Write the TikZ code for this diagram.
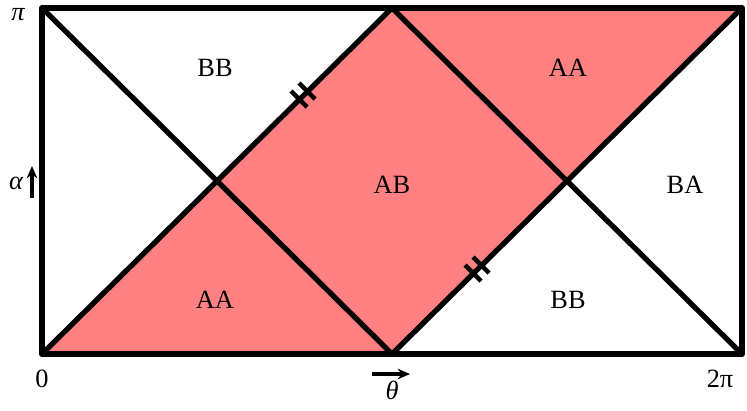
\documentclass[tikz,border=0pt]{standalone}
\usepackage{fontspec}
\setmainfont{Liberation Serif}
\usetikzlibrary{arrows.meta}
\begin{document}
\begin{tikzpicture}[x=0.02cm,y=-0.02cm,
  thickline/.style={line width=3pt,line cap=round,line join=round},
  lbl/.style={font=\fontsize{15}{17}\selectfont},
  axl/.style={font=\fontsize{15}{17}\selectfont\itshape},
  pinkfill/.style={fill=red!50!white}]
\useasboundingbox (0,0) rectangle (747,410);
\coordinate (BL) at (42,354); \coordinate (BR) at (742,354);
\coordinate (TL) at (42,8); \coordinate (TR) at (742,8);
\coordinate (TM) at (392,8); \coordinate (BM) at (392,354);
\coordinate (XL) at (217,181); \coordinate (XR) at (567,181);
\fill[pinkfill] (BL) -- (XL) -- (BM) -- cycle;
\fill[pinkfill] (XL) -- (TM) -- (XR) -- (BM) -- cycle;
\fill[pinkfill] (TM) -- (TR) -- (XR) -- cycle;
\draw[thickline] (TL) rectangle (BR);
\draw[thickline] (BL) -- (TM) -- (BR);
\draw[thickline] (TL) -- (BM) -- (TR);
\foreach \cx/\cy in {303/95,477/269} {
  \draw[line width=2.6pt] (\cx-4-8,\cy-4-8+8) -- (\cx-4+8,\cy-4+8+8);
  \draw[line width=2.6pt] (\cx+4-8,\cy+4-8-8) -- (\cx+4+8,\cy+4+8-8);
}
\node[lbl] (bb1) at (215,68) {BB};
\node[lbl] (aa1) at (568,68) {AA};
\node[lbl] (ab) at (392,185) {AB};
\node[lbl] (ba) at (685,185) {BA};
\node[lbl] (aa2) at (215,300) {AA};
\node[lbl] (bb2) at (568,300) {BB};
\node[axl] (pi) at (18,15) {π};
\node[axl] (alpha) at (16,183) {α};
\draw[line width=1.8pt,-{Stealth[length=7pt,width=6pt]}] (32,198) -- (32,166);
\node[lbl] (zero) at (42,379) {0};
\node[lbl] (twopi) at (720,379) {2π};
\node[axl] (theta) at (392,390) {θ};
\draw[line width=1.8pt,-{Stealth[length=7pt,width=6pt]}] (372,374) -- (410,374);
\end{tikzpicture}
\end{document}
